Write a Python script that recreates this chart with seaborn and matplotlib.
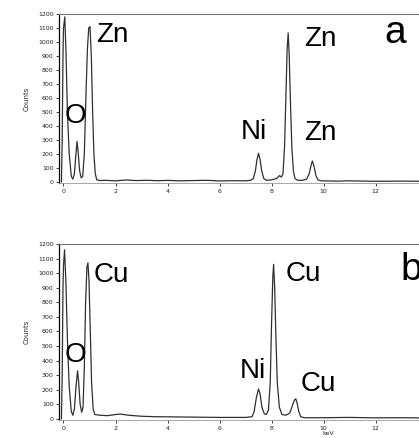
import numpy as np
import pandas as pd
import seaborn as sns
import matplotlib.pyplot as plt

# spectrum a (ZnO / Ni): energy (keV), counts
kev_a = [-0.08, -0.05, -0.02, 0.0, 0.05, 0.10, 0.15, 0.22, 0.30, 0.36, 0.42, 0.47, 0.52, 0.56,
         0.62, 0.68, 0.74, 0.80, 0.86, 0.92, 0.97, 1.02, 1.07, 1.12, 1.17, 1.22, 1.28, 1.4,
         1.6, 2.0, 2.4, 2.8, 3.2, 3.6, 4.0, 4.5, 5.0, 5.5, 6.0, 6.5, 7.0, 7.2,
         7.3, 7.38, 7.44, 7.5, 7.56, 7.62, 7.7, 7.8, 8.0, 8.2, 8.3, 8.38, 8.44, 8.5, 8.55,
         8.6, 8.64, 8.68, 8.73, 8.78, 8.84, 8.9, 9.0, 9.2, 9.35, 9.45, 9.52, 9.57, 9.63,
         9.7, 9.78, 9.9, 10.5, 11.0, 12.0, 13.0, 14.0]
counts_a = [0, 300, 900, 1100, 1180, 900, 500, 200, 40, 20, 60, 180, 290, 220,
            80, 30, 40, 200, 600, 950, 1100, 1110, 900, 500, 200, 60, 15, 10,
            12, 8, 14, 10, 12, 9, 11, 8, 10, 12, 7, 9, 8, 12,
            25, 80, 160, 205, 160, 80, 25, 12, 15, 25, 45, 35, 60, 250, 600,
            950, 1065, 900, 550, 250, 80, 25, 12, 12, 20, 60, 120, 150, 115,
            50, 15, 8, 6, 8, 5, 6, 5]

# spectrum b (CuO / Ni)
kev_b = [-0.08, -0.05, -0.02, 0.0, 0.04, 0.09, 0.15, 0.22, 0.30, 0.36, 0.42, 0.48, 0.54, 0.58,
         0.64, 0.70, 0.75, 0.80, 0.85, 0.90, 0.94, 0.98, 1.03, 1.08, 1.14, 1.2, 1.4, 1.7,
         2.0, 2.2, 2.5, 3.0, 3.5, 4.0, 5.0, 6.0, 7.0, 7.25, 7.33, 7.42, 7.5, 7.56, 7.63,
         7.72, 7.8, 7.88, 7.95, 8.0, 8.05, 8.08, 8.12, 8.17, 8.22, 8.3, 8.4, 8.55, 8.7,
         8.8, 8.88, 8.93, 8.98, 9.05, 9.12, 9.25, 10.0, 11.0, 12.0, 13.0, 14.0]
counts_b = [0, 300, 900, 1050, 1160, 950, 550, 220, 50, 25, 70, 220, 330, 260,
            100, 45, 80, 350, 800, 1040, 1070, 950, 600, 250, 70, 30, 25, 22,
            30, 33, 25, 18, 15, 14, 12, 10, 10, 15, 50, 150, 205, 170, 80,
            35, 30, 60, 250, 650, 980, 1060, 900, 550, 250, 80, 30, 25, 40,
            90, 130, 138, 110, 50, 15, 8, 8, 10, 7, 8, 6]

# peak labels: text, keV, counts
labels_a = [("O", 0.44, 470), ("Zn", 1.87, 1050), ("Ni", 7.33, 355),
            ("Zn", 9.87, 1022), ("Zn", 9.87, 348)]
labels_b = [("O", 0.44, 436), ("Cu", 1.83, 990), ("Ni", 7.3, 327),
            ("Cu", 9.21, 995), ("Cu", 9.79, 239)]

yticks = list(range(0, 1300, 100))
xticks = [0, 2, 4, 6, 8, 10, 12]

sns.set_style("white")
fig = plt.figure(figsize=(4.19, 4.38), dpi=100)
ax_a = fig.add_axes([0.141, 0.582, 0.859, 0.386])
ax_b = fig.add_axes([0.141, 0.041, 0.859, 0.402])

panels = [(ax_a, kev_a, counts_a, labels_a), (ax_b, kev_b, counts_b, labels_b)]
for ax, kev, counts, labels in panels:
    df = pd.DataFrame({"keV": kev, "Counts": counts})
    sns.lineplot(data=df, x="keV", y="Counts", ax=ax, color="#303030", lw=0.9,
                 estimator=None, sort=False)
    ax.set_xlim(-0.17, 13.67)
    ax.set_ylim(-8, 1200)
    ax.set_yticks(yticks)
    ax.set_yticklabels([str(v) for v in yticks])
    ax.set_xticks(xticks)
    ax.tick_params(axis="both", labelsize=4.5, length=2.5, width=0.6, pad=1.5,
                   direction="out", left=True, bottom=True, colors="#222222")
    ax.spines["right"].set_visible(False)
    ax.spines["top"].set_color("#777777")
    ax.spines["top"].set_linewidth(0.8)
    ax.spines["left"].set_color("black")
    ax.spines["left"].set_linewidth(0.9)
    ax.spines["bottom"].set_color("#999999")
    ax.spines["bottom"].set_linewidth(0.6)
    ax.set_ylabel("Counts", fontsize=5, labelpad=6)
    ax.set_xlabel("")
    for txt, x, y in labels:
        ax.text(x, y, txt, fontsize=20, family="Liberation Sans", color="black",
                ha="center", va="center")

ax_a.text(12.75, 1065, "a", fontsize=28, family="Liberation Sans", color="black",
          ha="center", va="center")
ax_b.text(12.94, 1023, "b", fontsize=28, family="Liberation Sans", color="black",
          ha="left", va="center")
ax_b.set_xlabel("keV", fontsize=4.5, labelpad=0)
ax_b.xaxis.set_label_coords(0.747, -0.065)

fig.savefig("out.png", dpi=100)
